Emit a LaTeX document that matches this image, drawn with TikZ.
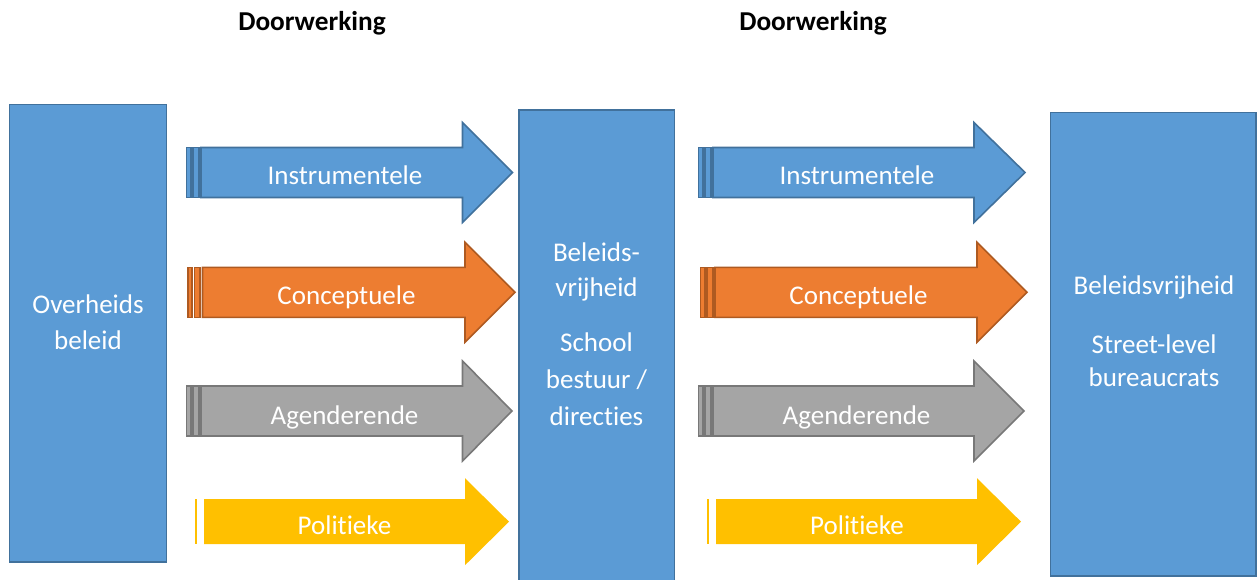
\documentclass[tikz,border=0pt]{standalone}
\usepackage{fontspec}
\setmainfont[Ligatures={NoCommon}]{Carlito}
\definecolor{cblue}{HTML}{5B9BD5}
\definecolor{cblueD}{HTML}{41719C}
\definecolor{corange}{HTML}{ED7D31}
\definecolor{corangeD}{HTML}{AE5A21}
\definecolor{cgray}{HTML}{A5A5A5}
\definecolor{cgrayD}{HTML}{787878}
\definecolor{cyellow}{HTML}{FFC000}
% #1 x0, #2 body start offset, #3 xh, #4 xt, #5 yc, #6 body half, #7 head half, #8 style
\newcommand\stripedarrow[8]{%
  \path[#8] ({#1+0.8},{#5-#6}) rectangle ({#1+5.2},{#5+#6});
  \path[#8] ({#1+7.3},{#5-#6}) rectangle ({#1+13.2},{#5+#6});
  \path[#8] ({#1+#2},{#5-#6}) -- (#3,{#5-#6}) -- (#3,{#5-#7}) -- (#4,#5)
     -- (#3,{#5+#7}) -- (#3,{#5+#6}) -- ({#1+#2},{#5+#6}) -- cycle;
}
\newcommand\barredarrow[8]{%
  \path[#8] (#1,{#5-#6}) rectangle ({#1+2},{#5+#6});
  \path[#8] ({#1+#2},{#5-#6}) -- (#3,{#5-#6}) -- (#3,{#5-#7}) -- (#4,#5)
     -- (#3,{#5+#7}) -- (#3,{#5+#6}) -- ({#1+#2},{#5+#6}) -- cycle;
}
\tikzset{
  blk/.style={fill=cblue, draw=cblueD, line width=1.8pt},
  blueA/.style={fill=cblue, draw=cblueD, line width=1.6pt},
  orangeA/.style={fill=corange, draw=corangeD, line width=1.6pt},
  grayA/.style={fill=cgray, draw=cgrayD, line width=1.6pt},
  yellowA/.style={fill=cyellow},
  lbl/.style={text=white, font=\fontsize{27}{33}\selectfont, anchor=base, inner sep=0pt},
  head/.style={text=black, font=\fontsize{27.3}{33}\selectfont\bfseries, anchor=base, inner sep=0pt},
}
\begin{document}
\begin{tikzpicture}[x=1pt,y=-1pt]
\useasboundingbox (0,0) rectangle (1258,579);
\fill[white] (0,0) rectangle (1258,579);
% headings
\node[head] (h1) at (312,30) {Doorwerking};
\node[head] (h2) at (813,30) {Doorwerking};
% boxes
\path[blk] (9.5,104.5) rectangle (166.5,562);
\path[blk] (519,110) rectangle (674.5,590);
\path[blk] (1050.5,112.5) rectangle (1256,576);
% box texts
\node[lbl] (b1a) at (88,313) {Overheids};
\node[lbl] (b1b) at (88,349) {beleid};
\node[lbl] (b2a) at (596.5,261.7) {Beleids-};
\node[lbl] (b2b) at (596.5,296) {vrijheid};
\node[lbl] (b2c) at (596.5,351.7) {School};
\node[lbl] (b2d) at (596.5,388) {bestuur /};
\node[lbl] (b2e) at (596.5,425) {directies};
\node[lbl] (b3a) at (1154,294) {Beleidsvrijheid};
\node[lbl] (b3b) at (1154,353) {Street-level};
\node[lbl] (b3c) at (1154,386.7) {bureaucrats};
% column 1 arrows
\stripedarrow{185.5}{15.5}{462.5}{512.5}{172.5}{25}{50}{blueA}
\stripedarrow{187}{15.5}{465}{515}{292.3}{25}{50}{orangeA}
\stripedarrow{185.5}{15.5}{462.5}{512}{411}{25}{50}{grayA}
\barredarrow{195}{9}{465}{509}{521.7}{22.5}{43.5}{yellowA}
% column 2 arrows
\stripedarrow{697.5}{15.5}{974}{1025}{172.5}{25}{50}{blueA}
\stripedarrow{699.5}{15.5}{977}{1027}{292.3}{25}{50}{orangeA}
\stripedarrow{697.5}{15.5}{974}{1024}{411}{25}{50}{grayA}
\barredarrow{707}{9}{977}{1021}{521.7}{22.5}{43.5}{yellowA}
% arrow labels
\node[lbl] (a1) at (345,184.5) {Instrumentele};
\node[lbl] (a2) at (346.5,304) {Conceptuele};
\node[lbl] (a3) at (344.5,424) {Agenderende};
\node[lbl] (a4) at (344.5,534) {Politieke};
\node[lbl] (a5) at (857,184.5) {Instrumentele};
\node[lbl] (a6) at (858.5,304) {Conceptuele};
\node[lbl] (a7) at (856.5,424) {Agenderende};
\node[lbl] (a8) at (857,534) {Politieke};
\end{tikzpicture}
\end{document}
